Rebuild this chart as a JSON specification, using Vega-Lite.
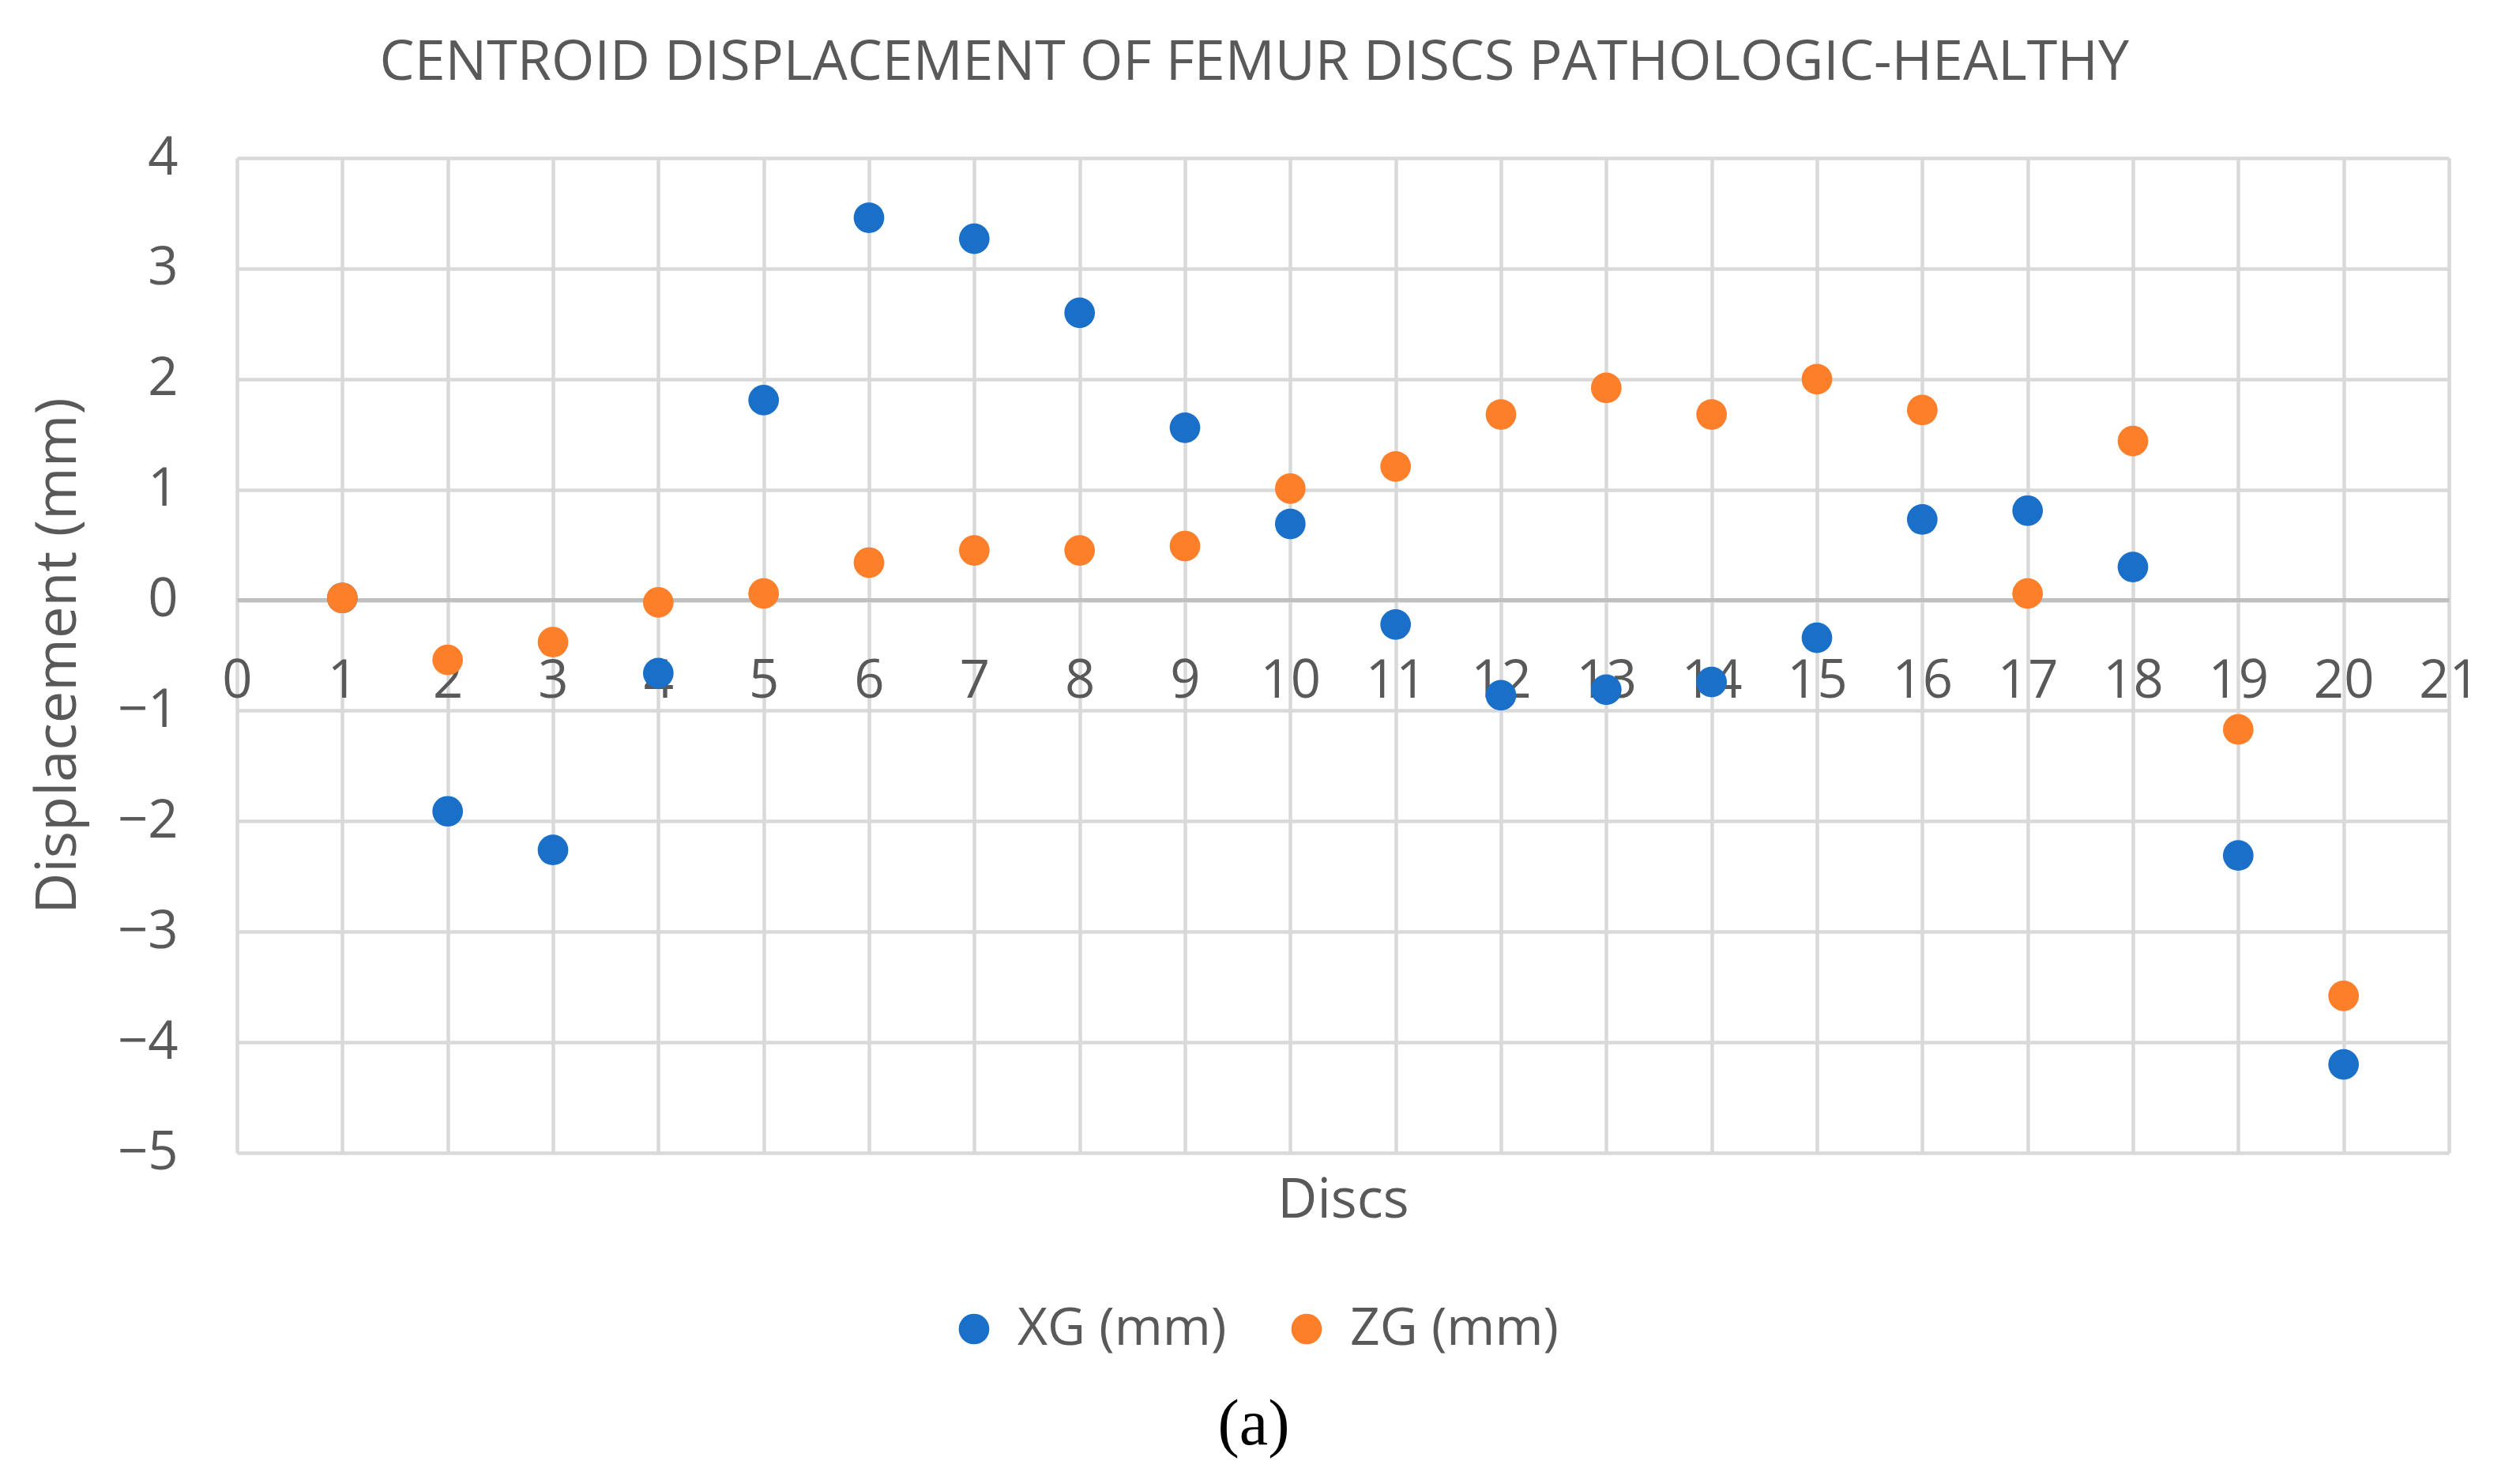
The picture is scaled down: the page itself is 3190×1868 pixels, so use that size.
{
  "$schema": "https://vega.github.io/schema/vega-lite/v6.json",
  "width": 2800,
  "height": 1259,
  "autosize": {"type": "none"},
  "padding": {"left": 300, "top": 200, "right": 90, "bottom": 409},
  "background": "white",
  "config": {
    "view": {"stroke": null},
    "font": "Open Sans"
  },
  "title": {
    "text": "CENTROID DISPLACEMENT OF FEMUR DISCS PATHOLOGIC-HEALTHY",
    "fontSize": 70,
    "fontWeight": "normal",
    "color": "#595959",
    "anchor": "middle",
    "frame": "bounds",
    "offset": 50
  },
  "data": {
    "values": [
      {"disc": 1, "series": "XG (mm)", "value": 0.02},
      {"disc": 2, "series": "XG (mm)", "value": -1.91},
      {"disc": 3, "series": "XG (mm)", "value": -2.26},
      {"disc": 4, "series": "XG (mm)", "value": -0.66},
      {"disc": 5, "series": "XG (mm)", "value": 1.81},
      {"disc": 6, "series": "XG (mm)", "value": 3.46},
      {"disc": 7, "series": "XG (mm)", "value": 3.27},
      {"disc": 8, "series": "XG (mm)", "value": 2.6},
      {"disc": 9, "series": "XG (mm)", "value": 1.56},
      {"disc": 10, "series": "XG (mm)", "value": 0.69},
      {"disc": 11, "series": "XG (mm)", "value": -0.22},
      {"disc": 12, "series": "XG (mm)", "value": -0.86},
      {"disc": 13, "series": "XG (mm)", "value": -0.81},
      {"disc": 14, "series": "XG (mm)", "value": -0.74},
      {"disc": 15, "series": "XG (mm)", "value": -0.34},
      {"disc": 16, "series": "XG (mm)", "value": 0.73},
      {"disc": 17, "series": "XG (mm)", "value": 0.81},
      {"disc": 18, "series": "XG (mm)", "value": 0.3},
      {"disc": 19, "series": "XG (mm)", "value": -2.31},
      {"disc": 20, "series": "XG (mm)", "value": -4.2},
      {"disc": 1, "series": "ZG (mm)", "value": 0.02},
      {"disc": 2, "series": "ZG (mm)", "value": -0.54},
      {"disc": 3, "series": "ZG (mm)", "value": -0.38},
      {"disc": 4, "series": "ZG (mm)", "value": -0.02},
      {"disc": 5, "series": "ZG (mm)", "value": 0.06},
      {"disc": 6, "series": "ZG (mm)", "value": 0.34},
      {"disc": 7, "series": "ZG (mm)", "value": 0.45},
      {"disc": 8, "series": "ZG (mm)", "value": 0.45},
      {"disc": 9, "series": "ZG (mm)", "value": 0.49},
      {"disc": 10, "series": "ZG (mm)", "value": 1.01},
      {"disc": 11, "series": "ZG (mm)", "value": 1.21},
      {"disc": 12, "series": "ZG (mm)", "value": 1.68},
      {"disc": 13, "series": "ZG (mm)", "value": 1.92},
      {"disc": 14, "series": "ZG (mm)", "value": 1.68},
      {"disc": 15, "series": "ZG (mm)", "value": 2.0},
      {"disc": 16, "series": "ZG (mm)", "value": 1.72},
      {"disc": 17, "series": "ZG (mm)", "value": 0.06},
      {"disc": 18, "series": "ZG (mm)", "value": 1.44},
      {"disc": 19, "series": "ZG (mm)", "value": -1.17},
      {"disc": 20, "series": "ZG (mm)", "value": -3.58}
    ]
  },
  "mark": {"type": "point", "filled": true, "opacity": 1, "size": 1500, "strokeWidth": 0},
  "encoding": {
    "x": {
      "field": "disc",
      "type": "quantitative",
      "scale": {"domain": [0, 21], "nice": false},
      "axis": {
        "title": "Discs",
        "values": [0, 1, 2, 3, 4, 5, 6, 7, 8, 9, 10, 11, 12, 13, 14, 15, 16, 17, 18, 19, 20, 21],
        "offset": -700,
        "grid": true,
        "gridColor": "#d9d9d9",
        "gridWidth": 4.5,
        "domain": true,
        "domainColor": "#bfbfbf",
        "domainWidth": 5,
        "ticks": false,
        "tickSize": 0,
        "labelFontSize": 67,
        "labelColor": "#595959",
        "labelPadding": 70,
        "labelFlush": false,
        "titleFontSize": 69,
        "titleFontWeight": "normal",
        "titleColor": "#595959",
        "titlePadding": 590
      }
    },
    "y": {
      "field": "value",
      "type": "quantitative",
      "scale": {"domain": [-5, 4], "nice": false},
      "axis": {
        "title": "Displacement (mm)",
        "values": [-5, -4, -3, -2, -1, 0, 1, 2, 3, 4],
        "grid": true,
        "gridColor": "#d9d9d9",
        "gridWidth": 4.5,
        "domain": false,
        "ticks": false,
        "tickSize": 0,
        "labelFontSize": 67,
        "labelColor": "#595959",
        "labelPadding": 75,
        "titleFontSize": 72,
        "titleFontWeight": "normal",
        "titleColor": "#595959",
        "titlePadding": 38
      }
    },
    "color": {
      "field": "series",
      "type": "nominal",
      "scale": {"domain": ["XG (mm)", "ZG (mm)"], "range": ["#1a6fc9", "#fe7f2a"]},
      "legend": {
        "title": "(a)",
        "orient": "none",
        "legendX": 900,
        "legendY": 1449,
        "direction": "horizontal",
        "symbolType": "circle",
        "symbolSize": 1500,
        "symbolStrokeWidth": 0,
        "labelFontSize": 66,
        "labelColor": "#595959",
        "labelLimit": 0,
        "labelOffset": 22,
        "columnPadding": 68,
        "titleOrient": "bottom",
        "titleAnchor": "middle",
        "titleFont": "Liberation Serif",
        "titleFontSize": 82,
        "titleFontWeight": "normal",
        "titleColor": "#000000",
        "titlePadding": 48
      }
    }
  }
}
